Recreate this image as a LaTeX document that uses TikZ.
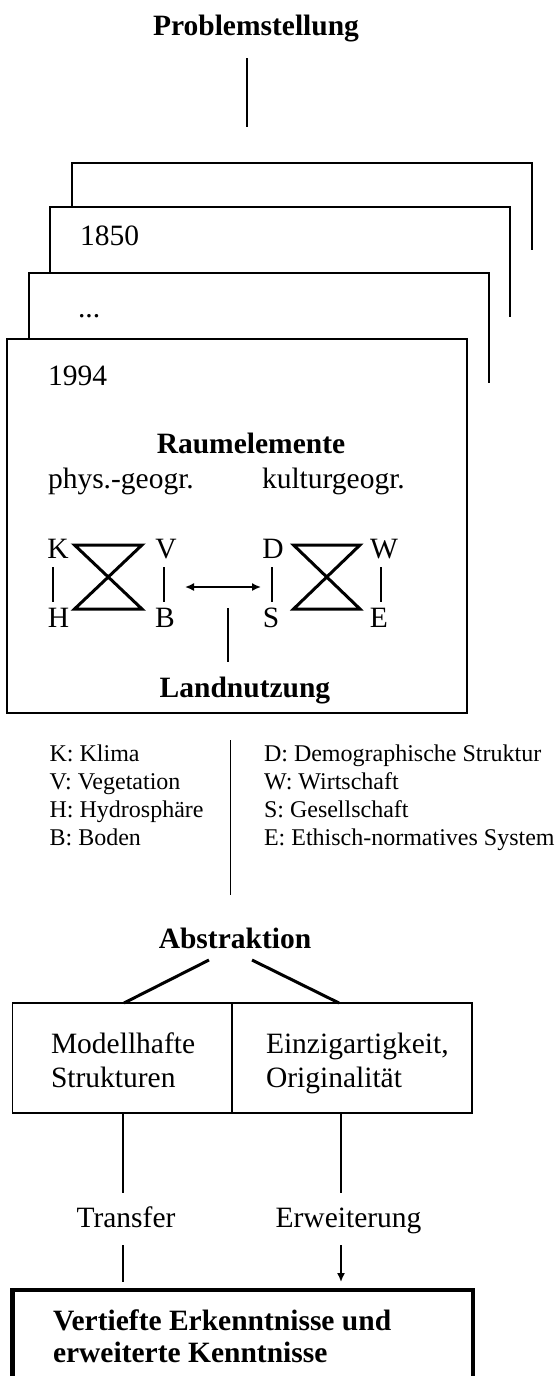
\documentclass[tikz,border=0pt]{standalone}
\usepackage{fontspec}
\setmainfont{Liberation Serif}
\usetikzlibrary{arrows.meta}
\begin{document}
\begin{tikzpicture}[x=1pt,y=-1pt,
  every node/.style={inner sep=0pt,outer sep=0pt},
  big/.style={font=\fontsize{29.5}{34}\selectfont},
  bigb/.style={font=\fontsize{29.5}{34}\selectfont\bfseries},
  leg/.style={font=\fontsize{24}{28}\selectfont,anchor=base west},
  frame/.style={line width=1.8pt},
  heavy/.style={line width=3pt,line join=miter},
  link/.style={line width=1.6pt},
  tip/.style={-{Latex[length=9pt,width=8pt]}}]

\clip (0,0) rectangle (557,1376);
\fill[white] (0,0) rectangle (557,1376);

% title
\node[bigb,anchor=base] (prob) at (256,35) {Problemstellung};
\coordinate (p1) at (247,58);
\coordinate (p2) at (247,127);
\draw[link] (p1) -- (p2);

% stacked cards
\draw[frame] (72,207) -- (72,163) -- (532,163) -- (532,250);
\draw[frame] (50,273) -- (50,207) -- (510,207) -- (510,317);
\draw[frame] (29,339) -- (29,273) -- (489,273) -- (489,383);
\draw[frame] (7,339) rectangle (467,713);

\node[big,anchor=base west] (y1850) at (80,245) {1850};
\node[big,anchor=base west] (dots) at (78,317) {...};
\node[big,anchor=base west] (y1994) at (48,385) {1994};

\node[bigb,anchor=base] (raum) at (251,453) {Raumelemente};
\node[big,anchor=base west] (phys) at (48,488) {phys.-geogr.};
\node[big,anchor=base west] (kult) at (262,488) {kulturgeogr.};

% letters
\node[big,anchor=base] (K) at (58,558) {K};
\node[big,anchor=base] (H) at (58.5,627) {H};
\node[big,anchor=base] (V) at (166,558) {V};
\node[big,anchor=base] (B) at (165,627) {B};
\node[big,anchor=base] (D) at (273,558) {D};
\node[big,anchor=base] (S) at (271,627) {S};
\node[big,anchor=base] (W) at (384,558) {W};
\node[big,anchor=base] (E) at (379,627) {E};

\draw[link] ([xshift=-5,yshift=-9]K.south) -- ([xshift=-5.5,yshift=5.5]H.north);
\draw[link] ([xshift=-2,yshift=-9]V.south) -- ([xshift=-1,yshift=5.5]B.north);
\draw[link] ([xshift=-1,yshift=-9]D.south) -- ([xshift=1,yshift=5.5]S.north);
\draw[link] ([xshift=-3,yshift=-9]W.south) -- ([xshift=2,yshift=5.5]E.north);

% hourglasses
\draw[heavy] (74.5,545) -- (142,545) -- (74.5,609) -- (142,609) -- cycle;
\draw[heavy] (293.5,545) -- (360,545) -- (293.5,609) -- (360,609) -- cycle;

% double arrow
\coordinate (al) at (185,587);
\coordinate (ar) at (261,587);
\draw[link,{Latex[length=9pt,width=8pt]}-{Latex[length=9pt,width=8pt]}] (al) -- (ar);

\coordinate (l1) at (228,608);
\coordinate (l2) at (228,662);
\draw[link] (l1) -- (l2);
\node[bigb,anchor=base] (land) at (245,697) {Landnutzung};

% legend
\node[leg] (lk) at (49.6,761) {K: Klima};
\node[leg] (lv) at (49.6,789) {V: Vegetation};
\node[leg] (lh) at (49.6,817) {H: Hydrosphäre};
\node[leg] (lb) at (49.6,845) {B: Boden};
\node[leg] (ld) at (264,761) {D: Demographische Struktur};
\node[leg] (lw) at (264,789) {W: Wirtschaft};
\node[leg] (ls) at (264,817) {S: Gesellschaft};
\node[leg] (le) at (264,845) {E: Ethisch-normatives System};
\coordinate (m1) at (230.5,740);
\coordinate (m2) at (230.5,895);
\draw[link] (m1) -- (m2);

% abstraction
\node[bigb,anchor=base] (abs) at (235,948) {Abstraktion};
\coordinate (a1) at (209,960);
\coordinate (a2) at (124,1003);
\coordinate (a3) at (252,960);
\coordinate (a4) at (339,1003);
\draw[heavy] (a1) -- (a2);
\draw[heavy] (a3) -- (a4);

\draw[frame] (12.4,1003) rectangle (471.6,1113);
\draw[frame] (232,1003) -- (232,1113);
\node[big,anchor=base west] (mod1) at (51,1053) {Modellhafte};
\node[big,anchor=base west] (mod2) at (51,1087) {Strukturen};
\node[big,anchor=base west] (ein1) at (266,1053) {Einzigartigkeit,};
\node[big,anchor=base west] (ein2) at (266,1087) {Originalität};

\coordinate (t1) at (123,1113);
\coordinate (t2) at (123,1193);
\coordinate (e1) at (341,1113);
\coordinate (e2) at (341,1193);
\draw[link] (t1) -- (t2);
\draw[link] (e1) -- (e2);
\node[big,anchor=base] (transfer) at (126,1227) {Transfer};
\node[big,anchor=base] (erw) at (348.5,1227) {Erweiterung};
\coordinate (t3) at (123,1245);
\coordinate (t4) at (123,1282);
\coordinate (e3) at (341,1245);
\coordinate (e4) at (341,1282);
\draw[link] (t3) -- (t4);
\draw[link,tip] (e3) -- (e4);

% result box
\draw[line width=4.5pt] (12.4,1290) rectangle (473,1390);
\node[bigb,anchor=base west] (res1) at (53,1330) {Vertiefte Erkenntnisse und};
\node[bigb,anchor=base west] (res2) at (53,1362) {erweiterte Kenntnisse};
\end{tikzpicture}
\end{document}
